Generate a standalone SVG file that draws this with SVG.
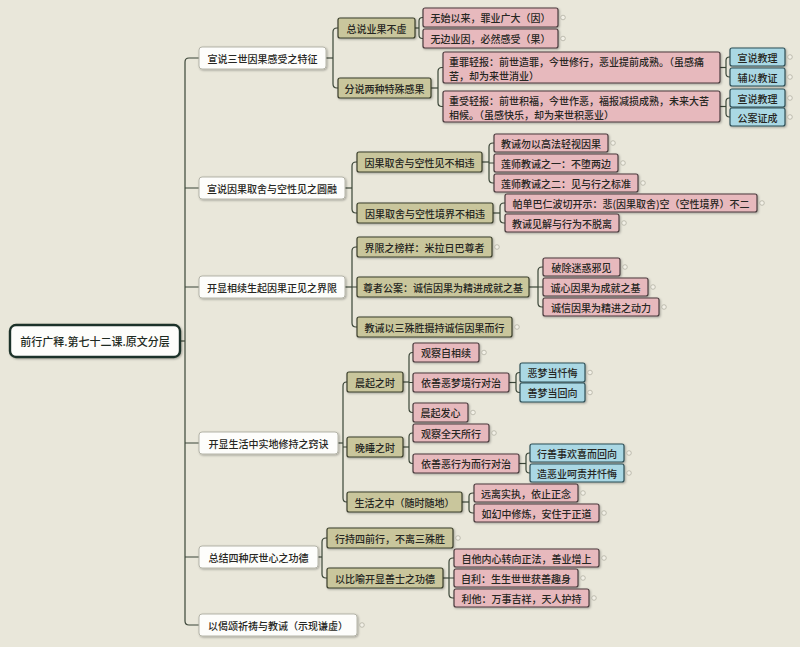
<svg xmlns="http://www.w3.org/2000/svg" width="800" height="647" viewBox="0 0 800 647">
<style>
text{font-family:"Noto Sans CJK SC","Noto Sans",sans-serif;font-size:10px;font-weight:500;fill:#262622;dominant-baseline:central}
.c{text-anchor:middle}
.root rect{fill:#fdfdfb;stroke:#1f3329;stroke-width:2.4}
.root text{font-size:11px;fill:#1e2a22}
.l1 rect{fill:#fdfdfb;stroke:#b4b4a8;stroke-width:1}
.l2 rect{fill:#c9c69c;stroke:#3a3e2b;stroke-width:1.2}
.l3 rect{fill:#e7b9bd;stroke:#4a3b3d;stroke-width:1.2}
.l4 rect{fill:#aad8e4;stroke:#2d4f57;stroke-width:1.2}
.con path{fill:none;stroke:#3b4638;stroke-width:1.2}
.ind circle{fill:#f2f0e6;stroke:#aaa99c;stroke-width:0.7}
rect{filter:url(#sh)}
</style>
<defs>
<filter id="sh" x="-10%" y="-30%" width="120%" height="170%">
<feDropShadow dx="1" dy="1" stdDeviation="0.8" flood-color="#000" flood-opacity="0.3"/>
</filter>
</defs>
<rect width="800" height="647" fill="#e9e7da" style="filter:none"/>

<g id="connectors" class="con">
<path d="M180 341H185"/>
<path d="M199 58H189Q185 58 185 62V621Q185 625 189 625H199"/>
<path d="M185 188H199M185 287H199M185 443H199M185 557H199"/>
<path d="M326 58H333"/>
<path d="M338 28H337Q333 28 333 32V84Q333 88 337 88H338"/>
<path d="M415 28H419"/>
<path d="M423 17.5H422.5Q419 17.5 419 21V35Q419 38.5 422.5 38.5H423"/>
<path d="M431 88H438"/>
<path d="M443 67.5H442Q438 67.5 438 71.5V102.5Q438 106.5 442 106.5H443"/>
<path d="M720 67.5H726"/>
<path d="M730 57H729.5Q726 57 726 60.5V73.5Q726 77 729.5 77H730"/>
<path d="M720 106.5H726"/>
<path d="M730 98H729.5Q726 98 726 101.5V113.5Q726 117 729.5 117H730"/>
<path d="M345 188H352"/>
<path d="M357 162H356Q352 162 352 166V209Q352 213 356 213H357"/>
<path d="M482 162H489"/>
<path d="M494 143H493Q489 143 489 147V179Q489 183 493 183H494M489 163H494"/>
<path d="M493 213H500"/>
<path d="M505 203H504Q500 203 500 207V219Q500 223 504 223H505"/>
<path d="M345 287H352"/>
<path d="M357 247H356Q352 247 352 251V323Q352 327 356 327H357M352 287H357"/>
<path d="M529 287H538"/>
<path d="M543 267H542Q538 267 538 271V303Q538 307 542 307H543M538 287H543"/>
<path d="M338 443H343"/>
<path d="M347 382H346.5Q343 382 343 386V498Q343 502 346.5 502H347M343 447H347"/>
<path d="M403 382H409"/>
<path d="M413 352.5H412.5Q409 352.5 409 356.5V408.5Q409 412.5 412.5 412.5H413M409 382.5H413"/>
<path d="M509 382.5H516"/>
<path d="M520 372.5H519.5Q516 372.5 516 376V389Q516 392.5 519.5 392.5H520"/>
<path d="M403 447H409"/>
<path d="M413 433H412.5Q409 433 409 437V459.5Q409 463.5 412.5 463.5H413"/>
<path d="M519 463.5H526"/>
<path d="M530 453H529.5Q526 453 526 456.5V469.5Q526 473 529.5 473H530"/>
<path d="M462 502H469"/>
<path d="M474 493H473Q469 493 469 496.5V509.5Q469 513 473 513H474"/>
<path d="M318 557H322"/>
<path d="M327 538H326Q322 538 322 542V574Q322 578 326 578H327"/>
<path d="M443 578H449"/>
<path d="M454 558H453Q449 558 449 562V594Q449 598 453 598H454M449 578H454"/>
</g>

<g id="root" class="root">
<rect x="10" y="325" width="170" height="32" rx="6"/>
<text class="c" x="95" y="341">前行广释.第七十二课.原文分层</text>
</g>

<g id="n1" class="l1"><rect x="199" y="47" width="127" height="22" rx="3"/><text class="c" x="262.5" y="58">宣说三世因果感受之特征</text></g>
<g id="n2" class="l1"><rect x="199" y="177" width="146" height="22" rx="3"/><text class="c" x="272" y="188">宣说因果取舍与空性见之圆融</text></g>
<g id="n3" class="l1"><rect x="199" y="276" width="146" height="22" rx="3"/><text class="c" x="272" y="287">开显相续生起因果正见之界限</text></g>
<g id="n4" class="l1"><rect x="199" y="432" width="139" height="22" rx="3"/><text class="c" x="268.5" y="443">开显生活中实地修持之窍诀</text></g>
<g id="n5" class="l1"><rect x="199" y="546" width="119" height="22" rx="3"/><text class="c" x="258.5" y="557">总结四种厌世心之功德</text></g>
<g id="n6" class="l1"><rect x="199" y="614" width="158" height="22" rx="3"/><text class="c" x="278" y="625">以偈颂祈祷与教诫（示现谦虚）</text></g>

<g id="n1a" class="l2"><rect x="338" y="18" width="77" height="20" rx="2"/><text class="c" x="376.5" y="28">总说业果不虚</text></g>
<g id="n1b" class="l2"><rect x="338" y="78" width="93" height="20" rx="2"/><text class="c" x="384.5" y="88">分说两种特殊感果</text></g>
<g id="n2a" class="l2"><rect x="357" y="152" width="125" height="20" rx="2"/><text class="c" x="419.5" y="162">因果取舍与空性见不相违</text></g>
<g id="n2b" class="l2"><rect x="357" y="203" width="136" height="20" rx="2"/><text class="c" x="425" y="213">因果取舍与空性境界不相违</text></g>
<g id="n3a" class="l2"><rect x="357" y="237" width="135" height="20" rx="2"/><text class="c" x="424.5" y="247">界限之榜样：米拉日巴尊者</text></g>
<g id="n3b" class="l2"><rect x="357" y="277" width="172" height="20" rx="2"/><text class="c" x="443" y="287">尊者公案：诚信因果为精进成就之基</text></g>
<g id="n3c" class="l2"><rect x="357" y="317" width="155" height="20" rx="2"/><text class="c" x="434.5" y="327">教诫以三殊胜摄持诚信因果而行</text></g>
<g id="n4a" class="l2"><rect x="347" y="372" width="56" height="20" rx="2"/><text class="c" x="375" y="382">晨起之时</text></g>
<g id="n4b" class="l2"><rect x="347" y="437" width="56" height="20" rx="2"/><text class="c" x="375" y="447">晚睡之时</text></g>
<g id="n4c" class="l2"><rect x="347" y="492" width="115" height="20" rx="2"/><text class="c" x="404.5" y="502">生活之中（随时随地）</text></g>
<g id="n5a" class="l2"><rect x="327" y="528" width="126" height="20" rx="2"/><text class="c" x="390" y="538">行持四前行，不离三殊胜</text></g>
<g id="n5b" class="l2"><rect x="327" y="568" width="116" height="20" rx="2"/><text class="c" x="385" y="578">以比喻开显善士之功德</text></g>

<g id="n1a1" class="l3"><rect x="423" y="8" width="135" height="19" rx="2"/><text class="c" x="490.5" y="17.5">无始以来，罪业广大（因）</text></g>
<g id="n1a2" class="l3"><rect x="423" y="29" width="135" height="19" rx="2"/><text class="c" x="490.5" y="38.5">无边业因，必然感受（果）</text></g>
<g id="n1b1" class="l3"><rect x="443" y="52" width="277" height="31" rx="2"/><text x="449" y="61">重罪轻报：前世造罪，今世修行，恶业提前成熟。（虽感痛</text><text x="449" y="75">苦，却为来世消业）</text></g>
<g id="n1b2" class="l3"><rect x="443" y="91" width="277" height="31" rx="2"/><text x="449" y="100">重受轻报：前世积福，今世作恶，福报减损成熟，未来大苦</text><text x="449" y="114">相候。（虽感快乐，却为来世积恶业）</text></g>
<g id="n2a1" class="l3"><rect x="494" y="134" width="114" height="18" rx="2"/><text class="c" x="551" y="143">教诫勿以高法轻视因果</text></g>
<g id="n2a2" class="l3"><rect x="494" y="154" width="124" height="18" rx="2"/><text class="c" x="556" y="163">莲师教诫之一：不堕两边</text></g>
<g id="n2a3" class="l3"><rect x="494" y="174" width="144" height="18" rx="2"/><text class="c" x="566" y="183">莲师教诫之二：见与行之标准</text></g>
<g id="n2b1" class="l3"><rect x="505" y="194" width="252" height="18" rx="2"/><text class="c" x="631" y="203">帕单巴仁波切开示：悲(因果取舍)空（空性境界）不二</text></g>
<g id="n2b2" class="l3"><rect x="505" y="214" width="114" height="18" rx="2"/><text class="c" x="562" y="223">教诫见解与行为不脱离</text></g>
<g id="n3b1" class="l3"><rect x="543" y="258" width="77" height="18" rx="2"/><text class="c" x="581.5" y="267">破除迷惑邪见</text></g>
<g id="n3b2" class="l3"><rect x="543" y="278" width="105" height="18" rx="2"/><text class="c" x="595.5" y="287">诚心因果为成就之基</text></g>
<g id="n3b3" class="l3"><rect x="543" y="298" width="116" height="18" rx="2"/><text class="c" x="601" y="307">诚信因果为精进之动力</text></g>
<g id="n4a1" class="l3"><rect x="413" y="343" width="66" height="19" rx="2"/><text class="c" x="446" y="352.5">观察自相续</text></g>
<g id="n4a2" class="l3"><rect x="413" y="373" width="96" height="19" rx="2"/><text class="c" x="461" y="382.5">依善恶梦境行对治</text></g>
<g id="n4a3" class="l3"><rect x="413" y="403" width="55" height="19" rx="2"/><text class="c" x="440.5" y="412.5">晨起发心</text></g>
<g id="n4b1" class="l3"><rect x="413" y="424" width="76" height="18" rx="2"/><text class="c" x="451" y="433">观察全天所行</text></g>
<g id="n4b2" class="l3"><rect x="413" y="454" width="106" height="19" rx="2"/><text class="c" x="466" y="463.5">依善恶行为而行对治</text></g>
<g id="n4c1" class="l3"><rect x="474" y="484" width="104" height="18" rx="2"/><text class="c" x="526" y="493">远离实执，依止正念</text></g>
<g id="n4c2" class="l3"><rect x="474" y="504" width="125" height="18" rx="2"/><text class="c" x="536.5" y="513">如幻中修炼，安住于正道</text></g>
<g id="n5b1" class="l3"><rect x="454" y="549" width="145" height="18" rx="2"/><text class="c" x="526.5" y="558">自他内心转向正法，善业增上</text></g>
<g id="n5b2" class="l3"><rect x="454" y="569" width="124" height="18" rx="2"/><text class="c" x="516" y="578">自利：生生世世获善趣身</text></g>
<g id="n5b3" class="l3"><rect x="454" y="589" width="135" height="18" rx="2"/><text class="c" x="521.5" y="598">利他：万事吉祥，天人护持</text></g>

<g id="n1b1a" class="l4"><rect x="730" y="48" width="55" height="18" rx="2"/><text class="c" x="757.5" y="57">宣说教理</text></g>
<g id="n1b1b" class="l4"><rect x="730" y="68" width="55" height="18" rx="2"/><text class="c" x="757.5" y="77">辅以教证</text></g>
<g id="n1b2a" class="l4"><rect x="730" y="89" width="55" height="18" rx="2"/><text class="c" x="757.5" y="98">宣说教理</text></g>
<g id="n1b2b" class="l4"><rect x="730" y="108" width="55" height="18" rx="2"/><text class="c" x="757.5" y="117">公案证成</text></g>
<g id="n4a2a" class="l4"><rect x="520" y="363" width="65" height="19" rx="2"/><text class="c" x="552.5" y="372.5">恶梦当忏悔</text></g>
<g id="n4a2b" class="l4"><rect x="520" y="383" width="65" height="19" rx="2"/><text class="c" x="552.5" y="392.5">善梦当回向</text></g>
<g id="n4b2a" class="l4"><rect x="530" y="444" width="94" height="18" rx="2"/><text class="c" x="577" y="453">行善事欢喜而回向</text></g>
<g id="n4b2b" class="l4"><rect x="530" y="464" width="94" height="18" rx="2"/><text class="c" x="577" y="473">造恶业呵责并忏悔</text></g>

<g id="indicators" class="ind">
<circle cx="563" cy="17.5" r="2.3"/><circle cx="563" cy="38.5" r="2.3"/>
<circle cx="790" cy="57" r="2.3"/><circle cx="790" cy="77" r="2.3"/><circle cx="790" cy="98" r="2.3"/><circle cx="790" cy="117" r="2.3"/>
<circle cx="613" cy="143" r="2.3"/><circle cx="623" cy="163" r="2.3"/><circle cx="643" cy="183" r="2.3"/>
<circle cx="762" cy="203" r="2.3"/><circle cx="624" cy="223" r="2.3"/>
<circle cx="497" cy="247" r="2.3"/><circle cx="517" cy="327" r="2.3"/>
<circle cx="625" cy="267" r="2.3"/><circle cx="653" cy="287" r="2.3"/><circle cx="664" cy="307" r="2.3"/>
<circle cx="484" cy="352.5" r="2.3"/><circle cx="473" cy="412.5" r="2.3"/>
<circle cx="590" cy="372.5" r="2.3"/><circle cx="590" cy="392.5" r="2.3"/>
<circle cx="494" cy="433" r="2.3"/>
<circle cx="629" cy="453" r="2.3"/><circle cx="629" cy="473" r="2.3"/>
<circle cx="583" cy="493" r="2.3"/><circle cx="604" cy="513" r="2.3"/>
<circle cx="458" cy="538" r="2.3"/>
<circle cx="604" cy="558" r="2.3"/><circle cx="583" cy="578" r="2.3"/><circle cx="594" cy="598" r="2.3"/>
<circle cx="362" cy="625" r="2.3"/>
</g>
</svg>
